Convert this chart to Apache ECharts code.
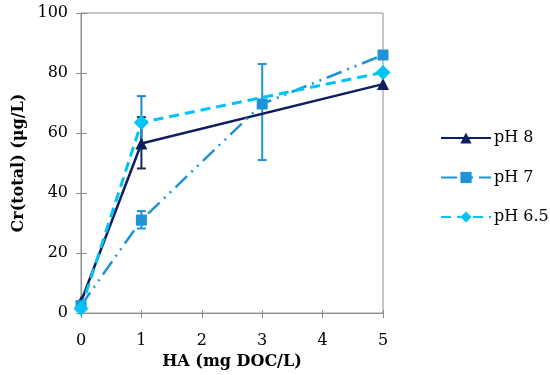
<!DOCTYPE html>
<html>
<head>
<meta charset="utf-8">
<script src="https://cdn.jsdelivr.net/npm/echarts@6/dist/echarts.min.js"></script>
<style>html,body{margin:0;padding:0;background:#fff;}#c{width:550px;height:375px;}</style>
</head>
<body>
<div id="c"></div>
<script>
// Data
var xValues = [0, 1, 3, 5];
var seriesNames = ['pH 8', 'pH 7', 'pH 6.5'];
var ph8 = [[0, 3.8], [1, 56.5], [5, 76.3]];
var ph7 = [[0, 2.5], [1, 31], [3, 69.7], [5, 86]];
var ph65 = [[0, 1.5], [1, 63.5], [5, 80.2]];
// error bars: [x, low, high]
var ph8Err = [[1, 48.2, 65.3]];
var ph7Err = [[1, 28.2, 34.0], [3, 51.0, 83.0]];
var ph65Err = [[1, 55.0, 72.3]];
var xTicks = [0, 1, 2, 3, 4, 5];
var yTicks = [0, 20, 40, 60, 80, 100];

var FONT = "'DejaVu Serif', serif";
var C8 = '#0f1e5e', C7 = '#1e93d6', C65 = '#00c4f5';

function errSeries(data, color, z) {
  return {
    type: 'custom', xAxisIndex: 0, yAxisIndex: 0, z: z, silent: true,
    data: data,
    renderItem: function (params, api) {
      var x = api.value(0);
      var lo = api.coord([x, api.value(1)]);
      var hi = api.coord([x, api.value(2)]);
      var w = 4.5;
      var st = {stroke: color, lineWidth: 2};
      return {type: 'group', children: [
        {type: 'line', shape: {x1: lo[0], y1: lo[1], x2: hi[0], y2: hi[1]}, style: st},
        {type: 'line', shape: {x1: lo[0] - w, y1: lo[1], x2: lo[0] + w, y2: lo[1]}, style: st},
        {type: 'line', shape: {x1: hi[0] - w, y1: hi[1], x2: hi[0] + w, y2: hi[1]}, style: st}
      ]};
    }
  };
}

var chart = echarts.init(document.getElementById('c'));
var axisLineGray = {show: true, lineStyle: {color: '#8c8c8c', width: 1}};
chart.setOption({
  animation: false,
  backgroundColor: '#fff',
  grid: {left: 81, top: 13, width: 302, height: 301, show: true, borderColor: '#8c8c8c', borderWidth: 1},
  legend: {
    orient: 'vertical', left: 440, top: 130, padding: 0, itemWidth: 50, itemHeight: 14, itemGap: 23.5,
    data: seriesNames,
    textStyle: {fontFamily: FONT, fontSize: 16, color: '#000', padding: [0, 0, 0, -2]}
  },
  xAxis: [{
    type: 'value', min: 0, max: 5, interval: 1,
    axisLine: axisLineGray, axisTick: {show: true, length: 5, lineStyle: {color: '#8c8c8c'}},
    splitLine: {show: false},
    axisLabel: {fontFamily: FONT, fontSize: 16, color: '#000', margin: 20},
    name: 'HA (mg DOC/L)', nameLocation: 'middle', nameGap: 40,
    nameTextStyle: {fontFamily: FONT, fontSize: 16, fontWeight: 'bold', color: '#000', verticalAlign: 'top'}
  }, {
    type: 'value', min: 0, max: 5, interval: 1, position: 'bottom',
    axisLine: {show: false}, axisTick: {show: true, inside: true, length: 3, lineStyle: {color: '#8c8c8c'}},
    splitLine: {show: false}, axisLabel: {show: false}
  }],
  yAxis: [{
    type: 'value', min: 0, max: 100, interval: 20,
    axisLine: axisLineGray, axisTick: {show: true, length: 5, lineStyle: {color: '#8c8c8c'}},
    splitLine: {show: false},
    axisLabel: {fontFamily: FONT, fontSize: 16, color: '#000', margin: 13},
    name: 'Cr(total) (μg/L)', nameLocation: 'middle', nameGap: 52,
    nameTextStyle: {fontFamily: FONT, fontSize: 16, fontWeight: 'bold', color: '#000'}
  }, {
    type: 'value', min: 0, max: 100, interval: 20, position: 'left',
    axisLine: {show: false}, axisTick: {show: true, inside: true, length: 6, lineStyle: {color: '#8c8c8c'}},
    splitLine: {show: false}, axisLabel: {show: false}
  }],
  series: [
    errSeries(ph8Err, '#1a2a4a', 1),
    errSeries(ph7Err, '#1e93d6', 1),
    errSeries(ph65Err, '#1e88d0', 1),
    {
      name: 'pH 8', type: 'line', data: ph8, z: 3,
      symbol: 'triangle', symbolSize: 12,
      lineStyle: {color: C8, width: 2.5, type: 'solid'},
      itemStyle: {color: C8}
    },
    {
      name: 'pH 7', type: 'line', data: ph7, z: 4,
      symbol: 'rect', symbolSize: 11,
      lineStyle: {color: C7, width: 2.5, type: [16, 6, 2, 6, 2, 6]},
      itemStyle: {color: C7}
    },
    {
      name: 'pH 6.5', type: 'line', data: ph65, z: 5,
      symbol: 'diamond', symbolSize: 15,
      lineStyle: {color: C65, width: 3, type: [10, 6]},
      itemStyle: {color: C65}
    }
  ]
});
</script>
</body>
</html>
